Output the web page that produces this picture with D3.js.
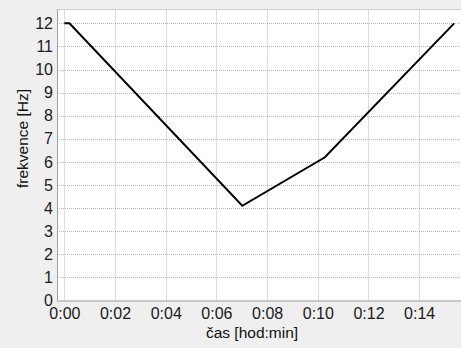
<!DOCTYPE html>
<html>
<head>
<meta charset="utf-8">
<script src="https://cdn.jsdelivr.net/npm/d3@7"></script>
<style>
  html, body { margin: 0; padding: 0; background: #efefef; }
  svg { display: block; font-family: "Liberation Sans", Arial, sans-serif; }
</style>
</head>
<body>
<svg id="chart" width="461" height="348"></svg>
<script>
// Frequency profile over time (time in minutes)
const timeMin = [0, 0.2, 7.02, 10.28, 15.38];
const freqHz = [12, 12, 4.1, 6.2, 12];
const xTickValues = [0, 2, 4, 6, 8, 10, 12, 14];
const xTickLabels = ["0:00", "0:02", "0:04", "0:06", "0:08", "0:10", "0:12", "0:14"];
const yTickValues = [0, 1, 2, 3, 4, 5, 6, 7, 8, 9, 10, 11, 12];
const xTitle = "čas [hod:min]";
const yTitle = "frekvence [Hz]";

const svg = d3.select("#chart");
const plot = { left: 57, top: 9.5, right: 462, bottom: 300.5 };

const x = d3.scaleLinear().domain([-0.29, 15.69]).range([plot.left, plot.right]);
const y = d3.scaleLinear().domain([0, 12.6]).range([plot.bottom, plot.top]);

// plot background
svg.append("rect")
  .attr("x", plot.left).attr("y", plot.top)
  .attr("width", plot.right - plot.left).attr("height", plot.bottom - plot.top)
  .attr("fill", "#ffffff");

// top border
svg.append("line")
  .attr("x1", plot.left).attr("x2", plot.right)
  .attr("y1", plot.top).attr("y2", plot.top)
  .attr("stroke", "#cfcfcf").attr("stroke-width", 1);

// grid
const grid = svg.append("g").attr("stroke", "#b8b8b8").attr("stroke-dasharray", "1,1").attr("stroke-width", 1);
grid.selectAll("line.h").data(yTickValues.filter(v => v > 0)).join("line")
  .attr("class", "h")
  .attr("x1", plot.left).attr("x2", plot.right)
  .attr("y1", d => Math.round(y(d)) + 0.5).attr("y2", d => Math.round(y(d)) + 0.5);
grid.selectAll("line.v").data(xTickValues).join("line")
  .attr("class", "v")
  .attr("y1", plot.top).attr("y2", plot.bottom)
  .attr("x1", d => Math.round(x(d)) + 0.5).attr("x2", d => Math.round(x(d)) + 0.5);

// axes
const xAxis = d3.axisBottom(x).tickValues(xTickValues)
  .tickFormat((d, i) => xTickLabels[i]).tickSize(0).tickPadding(7);
const gx = svg.append("g").attr("transform", `translate(0,${plot.bottom})`).call(xAxis);
gx.select(".domain").attr("stroke", "#a0a0a0").attr("d", `M${plot.left},0.5H${plot.right}`);
gx.selectAll("text").attr("font-size", 16).attr("fill", "#1a1a1a").attr("font-family", "Liberation Sans, Arial, sans-serif");

const yAxis = d3.axisLeft(y).tickValues(yTickValues).tickSize(0).tickPadding(4);
const gy = svg.append("g").attr("transform", `translate(${plot.left},0)`).call(yAxis);
gy.select(".domain").attr("stroke", "#a0a0a0").attr("d", `M0.5,${plot.top}V${plot.bottom}`);
gy.selectAll("text").attr("font-size", 16).attr("fill", "#1a1a1a").attr("font-family", "Liberation Sans, Arial, sans-serif");

// data line
svg.append("path")
  .datum(timeMin.map((t, i) => [t, freqHz[i]]))
  .attr("fill", "none")
  .attr("stroke", "#000")
  .attr("stroke-width", 2)
  .attr("stroke-linejoin", "miter")
  .attr("d", d3.line().x(d => x(d[0])).y(d => y(d[1])));

// axis titles
svg.append("text")
  .attr("x", 252).attr("y", 338)
  .attr("text-anchor", "middle")
  .attr("font-size", 15.5).attr("fill", "#111")
  .text(xTitle);

svg.append("text")
  .attr("transform", "translate(28,138.5) rotate(-90)")
  .attr("text-anchor", "middle")
  .attr("font-size", 15.5).attr("fill", "#111")
  .text(yTitle);
</script>
</body>
</html>
